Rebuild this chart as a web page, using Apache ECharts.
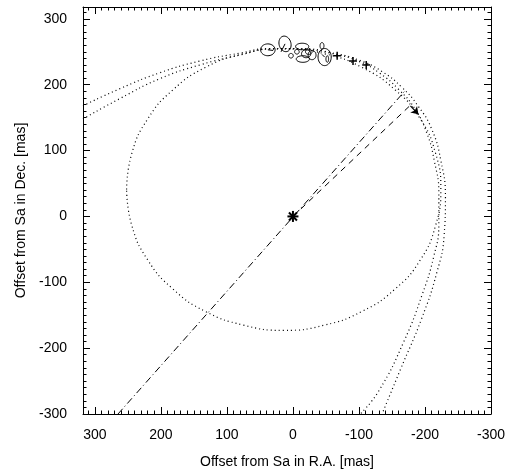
<!DOCTYPE html>
<html>
<head>
<meta charset="utf-8">
<script src="https://cdn.jsdelivr.net/npm/echarts@6/dist/echarts.min.js"></script>
<style>html,body{margin:0;padding:0;background:#fff;}#c{width:519px;height:476px;}</style>
</head>
<body>
<div id="c"></div>
<script>
// ---- data (mas) ----
const xTitle = 'Offset from Sa in R.A. [mas]';
const yTitle = 'Offset from Sa in Dec. [mas]';
const axisMin = -300, axisMax = 318, tickStep = 100;

// dotted model orbit (closed)
const orbitClosed = [[252,41],[244,96],[220,148],[182,192],[133,226],[75,247],[14,255],[-48,247],[-105,226],[-155,192],[-193,148],[-216,96],[-224,41],[-216,-14],[-193,-66],[-155,-110],[-105,-144],[-48,-165],[14,-173],[75,-165],[133,-144],[182,-110],[220,-66],[244,-14],[252,41]];
// dotted open orbit solutions
const orbitOpen1 = [[318,168],[262,194],[202,218],[141,236],[80,248],[35,255],[-11,255],[-56,249],[-101,237],[-135,220],[-165,196],[-190,167],[-210,133],[-224,85],[-231,28],[-229,-29],[-218,-85],[-195,-155],[-163,-232],[-135,-300]];
const orbitOpen2 = [[318,148],[262,179],[202,209],[141,230],[80,245],[35,254],[-11,254],[-56,248],[-101,235],[-132,217],[-160,193],[-185,163],[-203,126],[-214,85],[-221,35],[-221,-12],[-213,-62],[-196,-118],[-168,-190],[-130,-265],[-102,-300]];
// line of nodes (dash-dot) and periastron (dashed)
const nodeLine = [[265,-300],[-170,191]];
const periLine = [[0,0],[-177,168]];
const motionArrow = [[-178,168],[-190,155]];
// astrometric measurements: x, y, semi-axis x, semi-axis y, rotation (deg)
const errEllipses = [[38,253,11,9,0],[12,262,9,12,-15],[-14,258,10,5,0],[-20,247,7,6,0],[-29,245,6,7,0],[-15,239,10,5,0],[-48,242,10,13,0],[-44,259,3,5,0],[3,244,3.5,3.5,0],[-6,250,3.5,3.5,0],[-52,239,2,5,0],[-24,250,5,4,0]];
// O-C residual segments (measured -> model)
const ocLines = [[[38,253],[30,252]],[[12,262],[18,250]],[[-48,242],[-44,246]]];
const crossPts = [[-67,244],[-91,236],[-111,230]];
const primary = [[0,0]];

const FONT = 'Liberation Sans, Arial, Helvetica, sans-serif';

function mkX(pos, showLab){
  return {
    type:'value', min:axisMin, max:axisMax, interval:tickStep, inverse:true, position:pos,
    axisLine:{show:true, onZero:false, lineStyle:{color:'#000', width:1}},
    axisTick:{show:true, inside:true, length:7, lineStyle:{color:'#000'}},
    minorTick:{show:true, splitNumber:10, length:3.5, lineStyle:{color:'#000'}},
    splitLine:{show:false},
    axisLabel:{show:showLab, color:'#000', fontSize:14, margin:14, fontFamily:FONT},
    name: showLab ? xTitle : '', nameLocation:'middle', nameGap:41,
    nameTextStyle:{color:'#000', fontSize:14, fontFamily:FONT}
  };
}
function mkY(pos, showLab){
  return {
    type:'value', min:axisMin, max:axisMax, interval:tickStep, position:pos,
    axisLine:{show:true, onZero:false, lineStyle:{color:'#000', width:1}},
    axisTick:{show:true, inside:true, length:7, lineStyle:{color:'#000'}},
    minorTick:{show:true, splitNumber:10, length:3.5, lineStyle:{color:'#000'}},
    splitLine:{show:false},
    axisLabel:{show:showLab, color:'#000', fontSize:14, margin:16, fontFamily:FONT},
    name: showLab ? yTitle : '', nameLocation:'middle', nameGap:55,
    nameTextStyle:{color:'#000', fontSize:14, fontFamily:FONT}
  };
}

function dottedLine(data){
  return {type:'line', data:data, smooth:true, showSymbol:false, symbol:'none', clip:true, silent:true,
    lineStyle:{color:'#000', width:1.2, type:[1,3]}, xAxisIndex:0, yAxisIndex:0};
}

const chart = echarts.init(document.getElementById('c'), null, {renderer:'canvas'});
chart.setOption({
  backgroundColor:'#fff',
  animation:false,
  grid:{left:83, right:28, top:7, bottom:62, containLabel:false},
  xAxis:[mkX('bottom', true), mkX('top', false)],
  yAxis:[mkY('left', true), mkY('right', false)],
  series:[
    dottedLine(orbitClosed),
    dottedLine(orbitOpen1),
    dottedLine(orbitOpen2),
    {type:'line', data:nodeLine, showSymbol:false, symbol:'none', clip:true,
      lineStyle:{color:'#000', width:1, type:[7,3,1,3]}},
    {type:'line', data:periLine, showSymbol:false, symbol:'none', clip:true,
      lineStyle:{color:'#000', width:1, type:[6,5]}},
    {type:'lines', coordinateSystem:'cartesian2d', data:[{coords:motionArrow}],
      symbol:['none','arrow'], symbolSize:7, lineStyle:{color:'#000', width:1.2, opacity:1}},
    {type:'lines', coordinateSystem:'cartesian2d', data:ocLines.map(c => ({coords:c})),
      symbol:'none', lineStyle:{color:'#000', width:1, opacity:1}},
    {type:'custom', data:errEllipses, clip:true,
      renderItem:function(params, api){
        const c = api.coord([api.value(0), api.value(1)]);
        const s = api.size([api.value(2), api.value(3)]);
        const rot = api.value(4) * Math.PI / 180;
        const pts = [];
        for (let i=0;i<=40;i++){
          const t = i/40*2*Math.PI;
          const ex = s[0]*Math.cos(t), ey = s[1]*Math.sin(t);
          pts.push([c[0] + ex*Math.cos(rot) - ey*Math.sin(rot), c[1] + ex*Math.sin(rot) + ey*Math.cos(rot)]);
        }
        return {type:'polyline', shape:{points:pts}, style:{fill:null, stroke:'#000', lineWidth:1}};
      }},
    {type:'custom', data:crossPts, clip:true,
      renderItem:function(params, api){
        const c = api.coord([api.value(0), api.value(1)]);
        const h = 4;
        return {type:'group', children:[
          {type:'line', shape:{x1:c[0]-h,y1:c[1],x2:c[0]+h,y2:c[1]}, style:{stroke:'#000', lineWidth:1.5}},
          {type:'line', shape:{x1:c[0],y1:c[1]-h,x2:c[0],y2:c[1]+h}, style:{stroke:'#000', lineWidth:1.5}}
        ]};
      }},
    {type:'custom', data:primary, clip:true,
      renderItem:function(params, api){
        const c = api.coord([api.value(0), api.value(1)]);
        const h = 5.5, d = 4;
        const st = {stroke:'#000', lineWidth:2};
        return {type:'group', children:[
          {type:'line', shape:{x1:c[0]-h,y1:c[1],x2:c[0]+h,y2:c[1]}, style:st},
          {type:'line', shape:{x1:c[0],y1:c[1]-h,x2:c[0],y2:c[1]+h}, style:st},
          {type:'line', shape:{x1:c[0]-d,y1:c[1]-d,x2:c[0]+d,y2:c[1]+d}, style:st},
          {type:'line', shape:{x1:c[0]-d,y1:c[1]+d,x2:c[0]+d,y2:c[1]-d}, style:st}
        ]};
      }}
  ]
});
</script>
</body>
</html>
